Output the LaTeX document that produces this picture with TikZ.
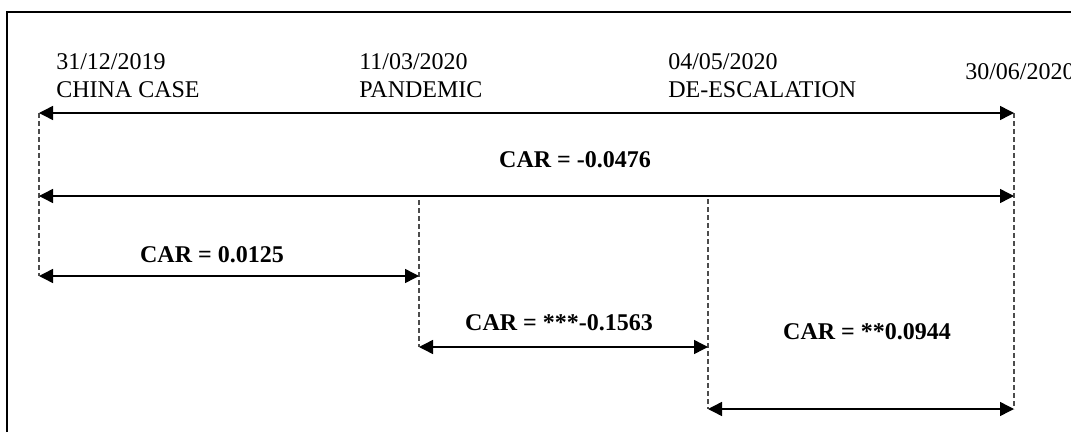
\documentclass[tikz,border=0pt]{standalone}
\usepackage{fontspec}
\setmainfont{Liberation Serif}
\usetikzlibrary{arrows.meta, positioning}
\tikzset{
  frame/.style={line width=1.8pt},
  datelabel/.style={anchor=base west,inner sep=0pt,font=\fontsize{18}{21}\selectfont},
  carlabel/.style={inner sep=0pt,font=\bfseries\fontsize{18}{21}\selectfont},
  span/.style={{Triangle[length=10.5pt,width=10.5pt]}-{Triangle[length=10.5pt,width=10.5pt]},line width=1.1pt},
  guide/.style={dash pattern=on 3.5pt off 2.5pt,line width=1pt,black!70}
}

\begin{document}
\begin{tikzpicture}[x=0.75pt,y=-0.75pt]
\useasboundingbox (0,0) rectangle (1071,432);
\draw[frame] (7,432) -- (7,12) -- (1071,12);

% dates
\node[datelabel] (d1) at (56,69) {31/12/2019};
\node[datelabel] (d2) at (359,69) {11/03/2020};
\node[datelabel] (d3) at (668,69) {04/05/2020};
\node[datelabel] (d4) at (965,79) {30/06/2020};
\node[datelabel] (ev1) at ([yshift=-21pt]d1.base west) {CHINA CASE};
\node[datelabel] (ev2) at ([yshift=-21pt]d2.base west) {PANDEMIC};
\node[datelabel] (ev3) at ([yshift=-21pt]d3.base west) {DE-ESCALATION};

% span ends
\coordinate (s1) at (39,113);  \coordinate (e1) at (1014,113);
\coordinate (s2) at (39,196);  \coordinate (e2) at (1014,196);
\coordinate (s3) at (39,276);  \coordinate (e3) at (419,276);
\coordinate (s4) at (419,347); \coordinate (e4) at (708,347);
\coordinate (s5) at (708,409); \coordinate (e5) at (1014,409);
\coordinate (g1) at (419,200); \coordinate (g2) at (708,199);

\draw[guide] (s1) -- (s3);
\draw[guide] (e1) -- (e5);
\draw[guide] (g1) -- (s4);
\draw[guide] (g2) -- (s5);

\draw[span] (s1) -- (e1);
\draw[span] (s2) -- (e2);
\draw[span] (s3) -- (e3);
\draw[span] (s4) -- (e4);
\draw[span] (s5) -- (e5);

\node[carlabel] (car1) at (575,160) {CAR = -0.0476};
\node[carlabel] (car2) at (212,255) {CAR = 0.0125};
\node[carlabel] (car3) at (559,323) {CAR = ***-0.1563};
\node[carlabel] (car4) at (867,332) {CAR = **0.0944};
\end{tikzpicture}
\end{document}
